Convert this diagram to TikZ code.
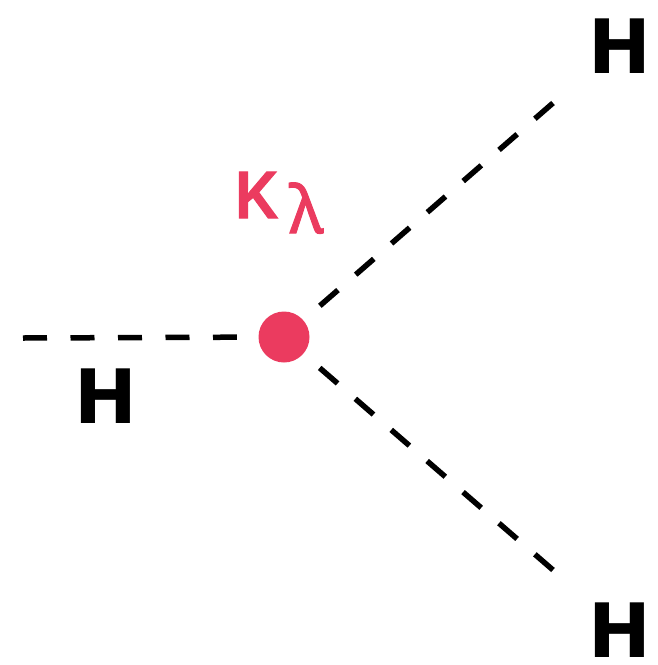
\documentclass[tikz,border=0pt]{standalone}
\usepackage{fontspec}
\setmainfont{DejaVu Sans}
\newfontfamily\greekfont[FakeBold=1.5]{Noto Sans}
\definecolor{kred}{HTML}{EB3B5F}
\begin{document}
\begin{tikzpicture}[x=1pt,y=-1pt,
  hlabel/.style={inner sep=0pt, anchor=base, font=\fontsize{75}{90}\selectfont\bfseries},
  prop/.style={line width=5.5pt, dash pattern=on 24pt off 23.5pt, black},
  vdot/.style={circle, fill=kred, inner sep=0pt, minimum size=51pt},
  vzone/.style={circle, inner sep=0pt, minimum size=94pt},
  coup/.style={inner sep=0pt, anchor=base west, text=kred}]
\useasboundingbox (0,0) rectangle (657,665);
\node[vdot] (v) at (284,337) {};
\node[vzone] (vz) at (284,337) {};
\coordinate (l) at (23,338);
\coordinate (ur) at (553,103);
\coordinate (lr) at (553,570);
\draw[prop] (l) -- (vz);
\draw[prop] (ur) -- (vz);
\draw[prop] (lr) -- (vz);
\node[hlabel] (h1) at (620,73) {H};
\node[hlabel] (h2) at (106,423) {H};
\node[hlabel] (h3) at (620,657) {H};
\node[coup, font=\greekfont\fontsize{86}{90}\selectfont] (k) at (232,218) {κ};
\node[coup, font=\greekfont\fontsize{66}{70}\selectfont] (lam) at (289,233) {λ};
\end{tikzpicture}
\end{document}
